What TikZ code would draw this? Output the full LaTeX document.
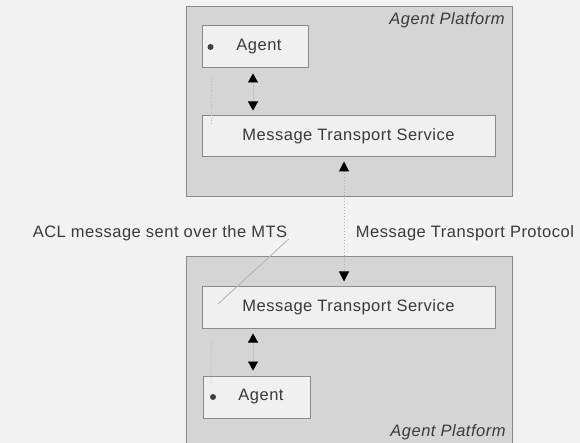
\documentclass[tikz,border=0pt]{standalone}
\usepackage{fontspec}
\setmainfont{Liberation Sans}[LetterSpace=3]
\usetikzlibrary{arrows.meta, positioning}
\definecolor{pagebg}{HTML}{F2F2F2}
\definecolor{platfill}{HTML}{D5D5D5}
\definecolor{boxfill}{HTML}{F0F0F0}
\definecolor{edgegray}{HTML}{8A8A8A}
\definecolor{inkgray}{HTML}{3A3A3A}

\begin{document}
\begin{tikzpicture}
	[x=1pt, y=-1pt, font=\fontsize{16.5}{19}\selectfont, text=inkgray,
	 platform/.style={draw=edgegray, fill=platfill, line width=1pt, minimum width=326pt, inner sep=0pt},
	 unitbox/.style={draw=edgegray, fill=boxfill, line width=1pt, minimum height=42pt, inner sep=0pt},
	 platlabel/.style={font=\fontsize{16.5}{19}\selectfont\itshape},
	 link/.style={draw=gray!45, line width=0.6pt, shorten >=5pt, shorten <=5pt,
	              {Triangle[length=9pt, width=10pt, color=black]}-{Triangle[length=9pt, width=10pt, color=black]}},
	 wire/.style={draw=gray!60, dotted, line width=1pt, shorten >=4pt, shorten <=4pt,
	              {Triangle[length=10pt, width=10pt, color=black]}-{Triangle[length=10pt, width=10pt, color=black]}},
	 lifeline/.style={draw=gray!55, dotted, line width=0.8pt},
	 pointer/.style={draw=gray!60, line width=0.8pt}]
   \useasboundingbox (0,0) rectangle (580,443);
   \clip (0,0) rectangle (580,443);
   \fill[pagebg] (0,0) rectangle (580,443);

   % top platform
   \node[platform, minimum height=190pt] (platA) at (349,102) {};
   \node[platlabel] (platAlbl) at (447,20) {Agent Platform};
   \node[unitbox, minimum width=106pt] (agentA) at (255,47) {\hspace{8pt}Agent};
   \node[unitbox, minimum width=293pt, minimum height=41pt] (mtsA) at (348.5,136.5) {Message Transport Service};
   \fill[black!75] ([xshift=9pt]agentA.west) circle (3pt);

   % bottom platform
   \node[platform, minimum height=194pt] (platB) at (349,354) {};
   \node[platlabel] (platBlbl) at (448,432) {Agent Platform};
   \node[unitbox, minimum width=293pt] (mtsB) at (348.5,307) {Message Transport Service};
   \node[unitbox, minimum width=107pt] (agentB) at (257,397) {\hspace{8pt}Agent};
   \fill[black!75] ([xshift=10pt]agentB.west) circle (3pt);

   % labels between the platforms
   \node (acl) at (160,233) {ACL message sent over the MTS};
   \node (mtp) at (465,233) {Message Transport Protocol};

   \draw[lifeline] ([xshift=10pt, yshift=-10pt]agentA.south west) -- ([xshift=10pt, yshift=-10pt]mtsA.north west);
   \draw[lifeline] ([xshift=10pt, yshift=-12pt]mtsB.south west) -- ([xshift=8pt, yshift=-10pt]agentB.north west);
   \coordinate (ptrend) at (218,304);
   \draw[pointer] ([xshift=-2pt, yshift=-6pt]acl.east) -- (ptrend);

   \path[link] (agentA.south -| 253,0) -- (mtsA.north -| 253,0);
   \path[link] (mtsB.south -| 253,0) -- (agentB.north -| 253,0);
   \path[wire] (mtsA.south -| 344,0) -- (mtsB.north -| 344,0);
\end{tikzpicture}
\end{document}
